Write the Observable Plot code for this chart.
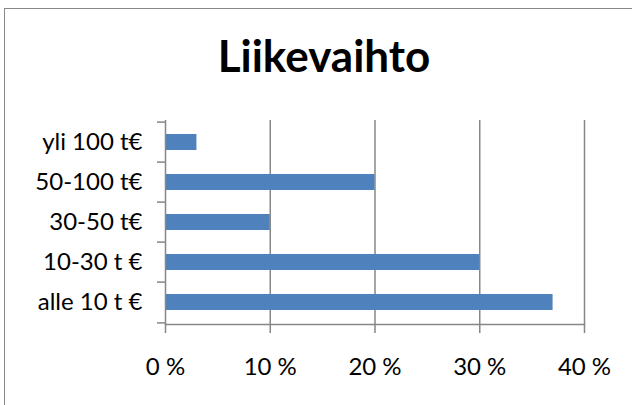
<!DOCTYPE html>
<html>
<head>
<meta charset="utf-8">
<script src="https://cdn.jsdelivr.net/npm/d3@7"></script>
<script src="https://cdn.jsdelivr.net/npm/@observablehq/plot@0.6"></script>
<style>
  html, body { margin: 0; padding: 0; background: #fff; overflow: hidden; }
  #wrap { position: relative; width: 632px; height: 405px; }
  #frame { position: absolute; left: 4px; top: 8px; width: 700px; height: 500px;
           border-left: 1.5px solid #888; border-top: 1.5px solid #888; box-sizing: border-box; }
  #title { position: absolute; left: 324px; top: 33px; transform: translateX(-50%);
           font-family: Lato, sans-serif; font-weight: bold; font-size: 44px; color: #000;
           white-space: nowrap; line-height: 1; }
  #chart { position: absolute; left: 0; top: 0; }
</style>
</head>
<body>
<div id="wrap">
  <div id="frame"></div>
  <div id="chart"></div>
  <div id="title">Liikevaihto</div>
</div>
<script>
const categories = ["yli 100 t€", "50-100 t€", "30-50 t€", "10-30 t €", "alle 10 t €"];
const values = [3, 20, 10, 30, 37];
const xTicks = [0, 10, 20, 30, 40];

const data = categories.map((c, i) => ({category: c, value: values[i]}));
const bottomCategory = categories[categories.length - 1];

const W = 632, H = 405;
const mL = 165, mR = 48, mT = 120, mB = 81;
const step = (H - mT - mB) / categories.length;
const grey = "#878787";

const chart = Plot.plot({
  width: W,
  height: H,
  marginLeft: mL,
  marginRight: mR,
  marginTop: mT,
  marginBottom: mB,
  style: {fontFamily: "Lato, sans-serif", fontSize: "24px", color: "#000", background: "transparent", overflow: "visible"},
  x: {domain: [0, 40]},
  y: {domain: categories, paddingInner: 0.6, paddingOuter: 0.3},
  marks: [
    Plot.gridX(xTicks.filter(t => t > 0), {stroke: grey, strokeOpacity: 1, strokeWidth: 1.5}),
    Plot.barX(data, {x: "value", y: "category", fill: "#4f81bd"}),
    Plot.ruleX([0], {stroke: grey, strokeWidth: 1.5}),
    Plot.frame({anchor: "bottom", stroke: grey, strokeWidth: 1.5}),
    Plot.axisX({ticks: xTicks, tickSize: 9, tickPadding: 24, tickFormat: d => d + " %", stroke: grey, strokeWidth: 1.5, fill: "#000", label: null}),
    Plot.axisY({tickSize: 0, tickPadding: 23, fill: "#000", label: null}),
    Plot.axisY({tickSize: 8, tickFormat: () => "", dy: -step / 2, stroke: grey, strokeWidth: 1.5, label: null}),
    Plot.axisY({ticks: [bottomCategory], tickSize: 8, tickFormat: () => "", dy: step / 2, stroke: grey, strokeWidth: 1.5, label: null})
  ]
});
document.getElementById("chart").appendChild(chart);
</script>
</body>
</html>
